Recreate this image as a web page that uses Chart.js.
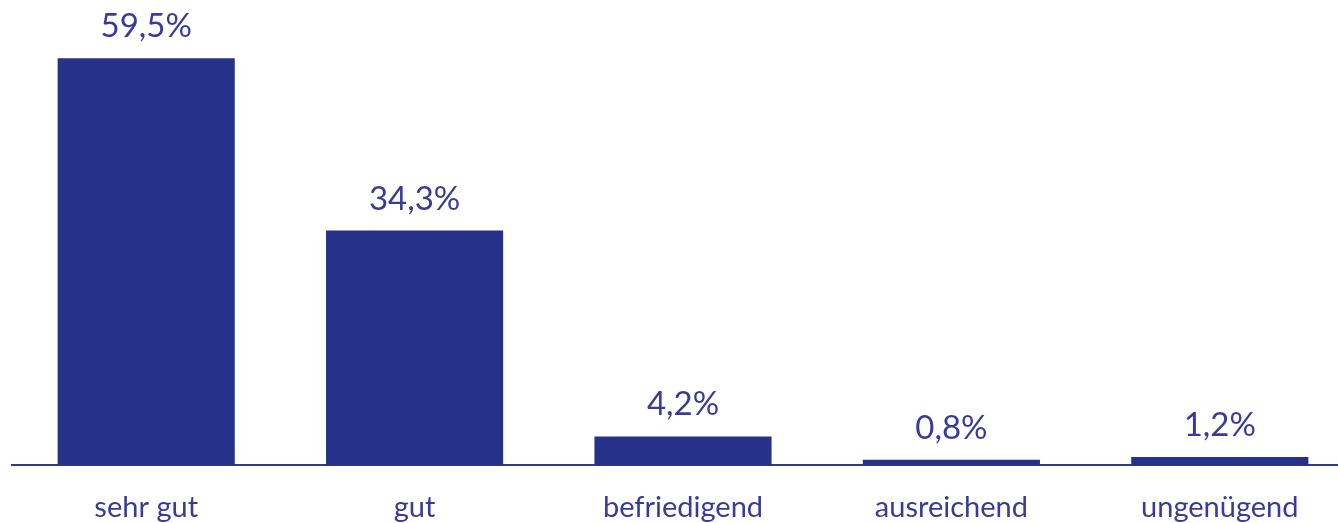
<!DOCTYPE html>
<html>
<head>
<meta charset="utf-8">
<script src="https://cdn.jsdelivr.net/npm/chart.js@4"></script>
<style>
  html, body { margin: 0; padding: 0; background: #fff; overflow: hidden; }
  #wrap { width: 1354px; height: 523px; position: relative; }
</style>
</head>
<body>
<div id="wrap"><canvas id="myBarChart"></canvas></div>
<script>
var labels = ['sehr gut', 'gut', 'befriedigend', 'ausreichend', 'ungenügend'];
var values = [59.5, 34.3, 4.2, 0.8, 1.2];

var barColor = '#26328a';
var textColor = '#3a3b98';

// draws the value above every bar
var valueLabels = {
  id: 'valueLabels',
  afterDatasetsDraw: function(chart){
    var ctx = chart.ctx;
    var meta = chart.getDatasetMeta(0);
    ctx.save();
    ctx.font = '33px Lato';
    ctx.fillStyle = textColor;
    ctx.textAlign = 'center';
    ctx.textBaseline = 'alphabetic';
    meta.data.forEach(function(bar, i){
      var txt = values[i].toFixed(1).replace('.', ',') + '%';
      ctx.fillText(txt, bar.x, bar.y - 21);
    });
    ctx.restore();
  }
};

var barChart = document.getElementById('myBarChart');
new Chart(barChart, {
  type: 'bar',
  data: {
    labels: labels,
    datasets: [{
      data: values,
      backgroundColor: barColor,
      borderWidth: 0,
      barPercentage: 0.66,
      categoryPercentage: 1
    }]
  },
  options: {
    responsive: true,
    maintainAspectRatio: false,
    animation: false,
    layout: {
      padding: { left: 12, right: 0, top: 0, bottom: -27 }
    },
    plugins: {
      legend: { display: false },
      tooltip: { enabled: false }
    },
    scales: {
      x: {
        grid: { display: false, drawTicks: false },
        border: { display: true, color: '#2e3a8e', width: 2 },
        ticks: {
          color: textColor,
          padding: 25,
          font: { family: 'Lato', size: 29 }
        }
      },
      y: {
        display: false,
        min: 0,
        max: 68
      }
    }
  },
  plugins: [valueLabels]
});
</script>
</body>
</html>
